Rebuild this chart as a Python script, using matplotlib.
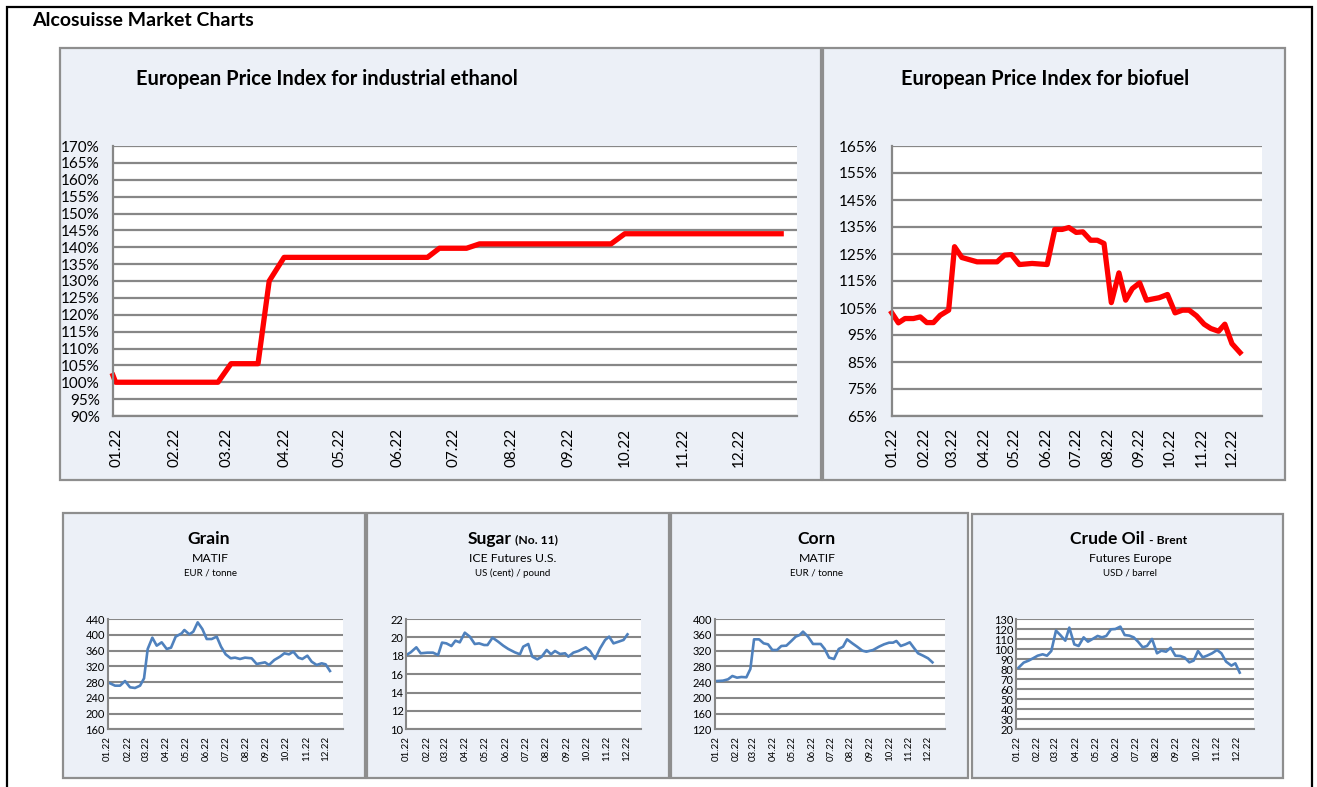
import matplotlib
matplotlib.use("Agg")
import matplotlib.pyplot as plt
from matplotlib.patches import Rectangle
from matplotlib.ticker import FixedLocator, FuncFormatter

plt.rcParams['font.family'] = ['Lato', 'DejaVu Sans']

# ---------------- DATA ----------------
month_days = [0, 31, 59, 90, 120, 151, 181, 212, 243, 273, 304, 334]
month_labels = ["01.22", "02.22", "03.22", "04.22", "05.22", "06.22",
                "07.22", "08.22", "09.22", "10.22", "11.22", "12.22"]

ethanol_days = [-1.9, -0.5, 54.5, 61.5, 76, 82, 90, 167, 173.4, 188, 195, 265.6, 273, 357]
ethanol_vals = [102, 100, 100, 105.5, 105.5, 130, 137, 137, 139.7, 139.7, 141, 141, 144, 144]
ethanol_ticks = list(range(90, 171, 5))

biofuel_days = [-1, 5.5, 12, 20.3, 27, 33.5, 40, 46.7, 55, 60.8, 68, 83, 102.7, 110, 116.8,
                124.7, 137.2, 152, 159.5, 166.8, 173.4, 180.6, 187.2, 194.8, 201.4, 208,
                215.2, 222.7, 229.3, 235.9, 243.1, 249.8, 262.2, 270.5, 278, 285.3, 291.8,
                299.1, 306.6, 313.2, 320.8, 327, 334, 341.9]
biofuel_vals = [103.2, 99.5, 101.1, 101.1, 101.7, 99.6, 99.6, 102.3, 104.2, 127.7, 123.7,
                122.1, 122.1, 124.6, 124.8, 121.1, 121.5, 121.1, 134.1, 134.1, 134.8, 133,
                133.2, 130.1, 130.1, 128.9, 107, 118, 107.9, 112.2, 114.3, 107.9, 108.8, 110,
                103.2, 104.2, 104.2, 102.1, 99, 97.4, 96.4, 99, 91.8, 88.5]
biofuel_ticks = list(range(65, 166, 10))

grain_days = [3.6, 11.2, 18.9, 26.5, 34.2, 41.8, 49.5, 55.6, 61.2, 68.3, 75, 82.6, 90.3,
              96.9, 104, 113.2, 117.3, 124.9, 131, 137.7, 144.8, 151.5, 159.1, 166.8,
              173.4, 180.5, 188.2, 194.8, 202.4, 210.1, 220.3, 227.9, 240.7, 246.8, 255,
              263.6, 270.3, 277.4, 284, 291.7, 297.8, 305.5, 312.1, 319.7, 327.4, 333.5, 340.1]
grain_vals = [276.7, 270.8, 270.8, 282.6, 266.6, 264.9, 270.8, 289.4, 363.9, 392.6, 372.3,
              380.8, 363.9, 367.2, 395.2, 403.6, 412.1, 401.1, 407.9, 431.5, 414.6, 389.2,
              389.2, 395.2, 369.8, 350.3, 340.2, 341.9, 338.5, 341.9, 340.2, 325.8, 330,
              323.3, 336, 344.4, 352.9, 350.3, 357.1, 341.9, 338.5, 346.9, 331.7, 323.3,
              327.5, 324.9, 308]
grain_ticks = list(range(160, 441, 40))

sugar_days = [0, 6.6, 15.2, 21.8, 31.9, 40.5, 48.1, 54.1, 60.7, 68.3, 74.4, 81, 88.6, 96.2,
              103.7, 110.3, 117.9, 123, 130.6, 139.2, 146.8, 154.4, 164.5, 172.1, 177.1,
              184.7, 190.8, 198.4, 205, 212.6, 219.1, 225.2, 232.8, 240.4, 245.4, 253,
              260.6, 271.8, 278.3, 285.9, 293.5, 301.1, 307.2, 313.8, 321.4, 329, 335]
sugar_vals = [18.08, 18.37, 18.92, 18.27, 18.34, 18.34, 18.08, 19.43, 19.35, 19.06, 19.64,
              19.46, 20.51, 20.08, 19.28, 19.35, 19.17, 19.17, 19.97, 19.53, 19.1, 18.74,
              18.37, 18.16, 18.99, 19.28, 17.9, 17.61, 17.9, 18.63, 18.16, 18.52, 18.19,
              18.27, 17.9, 18.34, 18.52, 18.92, 18.52, 17.65, 18.81, 19.72, 20.08, 19.35,
              19.53, 19.72, 20.33]
sugar_ticks = list(range(10, 23, 2))

corn_days = [1.6, 10.5, 18.4, 25.3, 32.6, 39.5, 47.4, 53.7, 59.5, 67.4, 74.7, 81.6, 88.4,
             95.8, 102.6, 110.5, 118.4, 125.3, 131.6, 136.8, 144.7, 152.6, 164.7, 171,
             177.9, 185.8, 193.2, 200, 206.3, 214.7, 222.1, 230.5, 236.8, 247.4, 256.8,
             264.7, 272.6, 278.9, 284.2, 291.1, 298.4, 305.3, 311.6, 318.4, 326.3, 334.2, 341.1]
corn_vals = [242.6, 243.5, 246.9, 255.3, 251.1, 252.8, 252, 273.1, 348.4, 348.4, 338.2,
             335.7, 321.3, 321.3, 331.5, 332.3, 344.2, 355.2, 359.4, 367.9, 355.2, 336.6,
             336.6, 323.9, 301.9, 298.5, 323.9, 329.8, 348.4, 338.2, 329.8, 319.6, 317.1,
             321.3, 329.8, 335.7, 339.9, 339.9, 344.2, 331.5, 335.7, 340.8, 327.2, 312.9,
             306.9, 300.2, 290]
corn_ticks = list(range(120, 401, 40))

crude_days = [2.5, 10.2, 17.8, 24.4, 31.5, 39.1, 45.7, 52.3, 59.4, 66, 73.6, 79.7, 87.3,
              93.9, 101.5, 108.1, 115.2, 122.8, 129.4, 136, 143.1, 149.7, 157.4, 164, 171.1,
              177.7, 184.3, 191.4, 198, 205.6, 213.2, 219.8, 226.9, 234, 241.1, 248.7,
              255.3, 262.4, 269, 275.6, 282.7, 289.3, 297, 304.6, 311.2, 318.3, 326.4,
              332.5, 339.1]
crude_vals = [81.5, 86.5, 88.5, 90.8, 93.4, 94.8, 93.4, 98.1, 118.4, 114, 108.4, 121.4,
              104.7, 103.1, 111.7, 107.4, 110.1, 113.1, 111.7, 113.1, 119.7, 120, 122.4, 114,
              113.4, 111.7, 107.4, 101.8, 103.1, 110.1, 95.8, 98.4, 97.4, 101.4, 93.4, 93.1,
              91.5, 86.8, 88.5, 98.1, 91.8, 93.4, 95.8, 99.1, 95.8, 87.5, 83.5, 85.8, 76.5]
crude_ticks = list(range(20, 131, 10))

# ---------------- LAYOUT ----------------
W, H = 1317, 787
fig = plt.figure(figsize=(W / 100, H / 100), dpi=100)
fig.patch.set_facecolor("white")

PANEL_BG = "#ECF0F7"
PANEL_EC = "#8E8E8E"
GRID_C = "#878787"


def fx(x):
    return x / W


def fy(y):
    return 1 - y / H


def panel(x0, y0, x1, y1):
    fig.add_artist(Rectangle((fx(x0), fy(y1)), (x1 - x0) / W, (y1 - y0) / H,
                             transform=fig.transFigure, facecolor=PANEL_BG,
                             edgecolor=PANEL_EC, linewidth=1.6, zorder=-5))


def make_ax(x0, y0, x1, y1):
    return fig.add_axes([fx(x0), fy(y1), (x1 - x0) / W, (y1 - y0) / H])


def style_ax(ax, yticks, xlim, fs_y, fs_x, pad_y, pad_x, gl_w, fmt=None):
    ax.set_facecolor("white")
    ax.set_xlim(*xlim)
    ax.set_ylim(yticks[0], yticks[-1])
    ax.yaxis.set_major_locator(FixedLocator(yticks))
    if fmt:
        ax.yaxis.set_major_formatter(FuncFormatter(fmt))
    else:
        ax.yaxis.set_major_formatter(FuncFormatter(lambda v, p: f"{int(v)}"))
    ax.set_xticks(month_days)
    ax.set_xticklabels(month_labels, rotation=90, fontsize=fs_x)
    ax.tick_params(axis="y", length=0, pad=pad_y, labelsize=fs_y)
    ax.tick_params(axis="x", length=0, pad=pad_x)
    ax.grid(axis="y", color=GRID_C, linewidth=gl_w)
    ax.set_axisbelow(True)
    for s in ("top", "right"):
        ax.spines[s].set_visible(False)
    for s in ("left", "bottom"):
        ax.spines[s].set_color(GRID_C)
        ax.spines[s].set_linewidth(gl_w)


# Outer frame
fig.add_artist(Rectangle((fx(7), fy(800)), (1312 - 7) / W, (800 - 7) / H,
                         transform=fig.transFigure, facecolor="none",
                         edgecolor="black", linewidth=1.6, zorder=-4, clip_on=False))
fig.text(fx(32), fy(20), "Alcosuisse Market Charts", fontsize=14, fontweight="bold",
         ha="left", va="center")

# Top panels
panel(60, 48, 821, 480)
panel(823, 48, 1285, 480)

fig.text(fx(136), fy(79), "European Price Index for industrial ethanol", fontsize=14.4,
         fontweight="bold", ha="left", va="center")
fig.text(fx(901), fy(79), "European Price Index for biofuel", fontsize=14.4,
         fontweight="bold", ha="left", va="center")

pct = lambda v, p: f"{int(v)}%"

ax1 = make_ax(113, 146, 797, 416)
style_ax(ax1, ethanol_ticks, (-1.9, 365.5), 11, 11, 9.5, 8.5, 1.6, pct)
ax1.plot(ethanol_days, ethanol_vals, color="#FF0000", linewidth=3.8,
         solid_joinstyle="round", clip_on=False)

ax2 = make_ax(892, 146, 1262, 416)
style_ax(ax2, biofuel_ticks, (-0.8, 363.6), 11, 11, 10.5, 8.5, 1.6, pct)
ax2.plot(biofuel_days, biofuel_vals, color="#FF0000", linewidth=3.8,
         solid_joinstyle="round", clip_on=False)

# Bottom panels
panel(63, 513, 365, 778)
panel(367, 513, 669, 778)
panel(671, 513, 968, 778)
panel(972, 514, 1283, 778)

BLUE = "#4F81BD"
small = [
    (107.7, 343.3, grain_days, grain_vals, grain_ticks, (0, 360.5)),
    (406.3, 641.3, sugar_days, sugar_vals, sugar_ticks, (0, 355.9)),
    (714.7, 945.3, corn_days, corn_vals, corn_ticks, (-2.6, 361.4)),
    (1016.3, 1253.7, crude_days, crude_vals, crude_ticks, (-1, 360.4)),
]
for (x0, x1, d, v, t, xl) in small:
    ax = make_ax(x0, 619, x1, 729.3)
    style_ax(ax, t, xl, 8, 7, 2, 5, 1.5)
    ax.plot(d, v, color=BLUE, linewidth=1.9, solid_joinstyle="round")

# Small chart titles
TS, SS, US, XS = 12.6, 8.8, 7, 8.7
fig.text(fx(209), fy(539), "Grain", fontsize=TS, fontweight="bold", ha="center", va="center")
fig.text(fx(210), fy(558), "MATIF", fontsize=SS, ha="center", va="center")
fig.text(fx(210), fy(573), "EUR / tonne", fontsize=US, ha="center", va="center")

fig.text(fx(512), fy(539), "Sugar", fontsize=TS, fontweight="bold", ha="right", va="center")
fig.text(fx(515), fy(540), "(No. 11)", fontsize=XS, fontweight="bold", ha="left", va="center")
fig.text(fx(513), fy(558), "ICE Futures U.S.", fontsize=SS, ha="center", va="center")
fig.text(fx(513), fy(573), "US (cent) / pound", fontsize=US, ha="center", va="center")

fig.text(fx(817), fy(539), "Corn", fontsize=TS, fontweight="bold", ha="center", va="center")
fig.text(fx(817), fy(558), "MATIF", fontsize=SS, ha="center", va="center")
fig.text(fx(817), fy(573), "EUR / tonne", fontsize=US, ha="center", va="center")

fig.text(fx(1145), fy(539), "Crude Oil", fontsize=TS, fontweight="bold", ha="right", va="center")
fig.text(fx(1149), fy(540), "- Brent", fontsize=XS, fontweight="bold", ha="left", va="center")
fig.text(fx(1130), fy(558), "Futures Europe", fontsize=SS, ha="center", va="center")
fig.text(fx(1130), fy(573), "USD / barrel", fontsize=US, ha="center", va="center")

fig.savefig("out.png", dpi=100)
